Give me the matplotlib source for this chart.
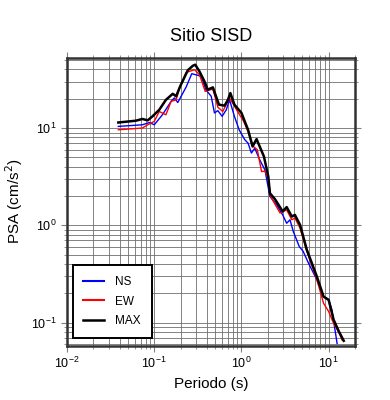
import numpy as np
import matplotlib
matplotlib.use("Agg")
import matplotlib.pyplot as plt

plt.rcParams["font.family"] = ["Liberation Sans", "DejaVu Sans"]

# Spectral data: period (s) and PSA (cm/s^2)
t_max = [0.0387, 0.0615, 0.073, 0.084, 0.0955, 0.114, 0.136, 0.163, 0.178, 0.198,
         0.242, 0.277, 0.295, 0.33, 0.377, 0.41, 0.47, 0.552, 0.64, 0.70, 0.746,
         0.83, 1.0, 1.19, 1.34, 1.49, 1.81, 2.03, 2.12, 2.42, 2.97, 3.3, 3.78,
         4.1, 4.7, 5.62, 7.33, 8.74, 10.0, 11.4, 13.1, 14.9]
psa_max = [11.4, 11.9, 12.4, 12.0, 13.2, 15.4, 19.5, 22.5, 21.2, 26.8,
           39.2, 43.7, 44.8, 38.2, 30.1, 24.8, 26.2, 17.4, 17.0, 19.5, 22.9,
           17.4, 14.3, 9.6, 6.47, 7.7, 5.1, 3.18, 2.14, 1.86, 1.39, 1.54, 1.23,
           1.28, 1.01, 0.56, 0.297, 0.185, 0.171, 0.107, 0.081, 0.065]

t_ew = [0.0387, 0.073, 0.084, 0.1, 0.114, 0.136, 0.156, 0.178, 0.195, 0.232,
        0.29, 0.33, 0.384, 0.47, 0.536, 0.61, 0.73, 0.88, 1.06, 1.19, 1.37,
        1.52, 1.70, 1.86, 2.03, 2.16, 2.77, 3.3, 3.78, 4.1, 4.7, 5.62, 7.33,
        8.74, 10.0, 11.4, 13.1, 14.3]
psa_ew = [9.6, 10.0, 10.8, 11.7, 14.8, 13.7, 18.8, 19.5, 25.8, 37.3,
          39.8, 35.3, 23.8, 25.2, 16.4, 14.8, 20.4, 15.4, 11.7, 9.2, 6.47,
          5.98, 3.57, 3.6, 3.05, 1.98, 1.34, 1.44, 1.14, 1.19, 0.935, 0.54, 0.275,
          0.158, 0.13, 0.098, 0.079, 0.066]

t_ns = [0.0387, 0.073, 0.088, 0.1, 0.124, 0.156, 0.17, 0.186, 0.232, 0.269,
        0.3, 0.346, 0.39, 0.45, 0.49, 0.536, 0.6, 0.67, 0.73, 0.83, 0.94,
        1.09, 1.19, 1.30, 1.42, 1.62, 1.86, 2.12, 2.53, 2.97, 3.3, 3.6, 3.94,
        4.6, 5.1, 5.86, 7.33, 8.74, 10.0, 10.9, 12.5]
psa_ns = [10.4, 10.8, 11.4, 10.8, 13.7, 18.8, 20.4, 18.3, 26.4, 36.2,
          35.3, 34.0, 24.8, 21.2, 14.3, 15.1, 13.2, 15.4, 19.5, 13.2, 9.6,
          7.6, 7.0, 5.53, 6.2, 4.72, 3.7, 1.98, 1.63, 1.28, 1.05, 1.14, 0.86,
          0.605, 0.54, 0.41, 0.275, 0.185, 0.173, 0.135, 0.061]

fig = plt.figure(figsize=(3.9, 4.0), dpi=100)
ax = fig.add_axes([0.172, 0.136, 0.738, 0.72])

ax.plot(t_ns, psa_ns, color="#0000ff", lw=1.0, label="NS")
ax.plot(t_ew, psa_ew, color="#ff0000", lw=1.0, label="EW")
ax.plot(t_max, psa_max, color="black", lw=1.8, label="MAX")

ax.set_xscale("log")
ax.set_yscale("log")
ax.set_xlim(0.01, 20)
ax.set_ylim(0.058, 53)

ax.grid(True, which="both", color="#6e6e6e", lw=0.6)
ax.set_axisbelow(True)
ax.tick_params(which="both", direction="out", top=True, right=True,
               color="#808080", labelsize=9)
ax.tick_params(which="major", length=4)
ax.tick_params(which="minor", length=2.5)
for sp in ax.spines.values():
    sp.set_linewidth(1.8)
    sp.set_color("#333333")

ax.set_xlabel("Periodo (s)", fontsize=11)
ax.set_ylabel("PSA (cm/s$^2$)", fontsize=11)
ax.set_title("Sitio SISD", fontsize=13, pad=12)

leg = ax.legend(loc="lower left", bbox_to_anchor=(0.02, 0.027), borderaxespad=0,
                fancybox=False, edgecolor="black", framealpha=1, fontsize=8.5,
                handlelength=1.7, labelspacing=0.65, borderpad=0.9,
                handletextpad=1.0)
leg.get_frame().set_linewidth(1.4)
for line in leg.get_lines()[:2]:
    line.set_linewidth(1.5)
leg.set_zorder(5)

fig.savefig("out.png", dpi=100)
